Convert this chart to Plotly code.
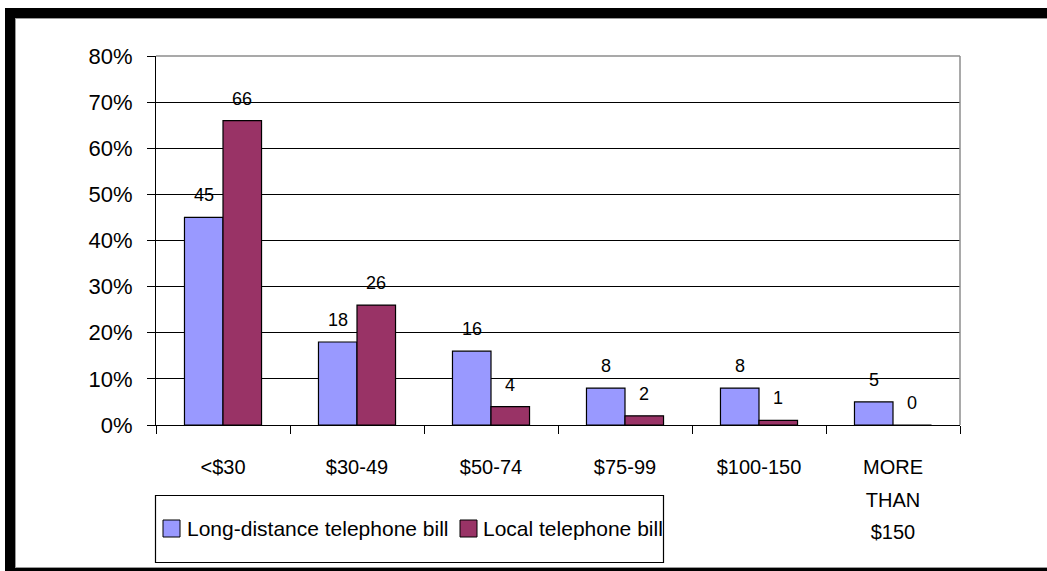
import plotly.graph_objects as go

# Monthly telephone bill brackets and share of respondents (%)
categories = ["<$30", "$30-49", "$50-74", "$75-99", "$100-150", "MORE THAN $150"]
tick_labels = ["<$30", "$30-49", "$50-74", "$75-99", "$100-150", "MORE<br>THAN<br>$150"]
long_distance = [45, 18, 16, 8, 8, 5]
local = [66, 26, 4, 2, 1, 0]
series_names = ["Long-distance telephone bill", "Local telephone bill"]
series_colors = ["#9999FF", "#993366"]
y_ticks = [0, 10, 20, 30, 40, 50, 60, 70, 80]
y_tick_labels = [f"{v}%" for v in y_ticks]

W, H = 1047, 571
ML, MR, MT, MB = 156, 87, 56, 146
PW, PH = W - ML - MR, H - MT - MB
FONT = "Liberation Sans, Arial, sans-serif"


def px_x(px):
    return (px - ML) / PW


def px_y(py):
    return (H - MB - py) / PH


fig = go.Figure()
for name, vals, col in zip(series_names, [long_distance, local], series_colors):
    fig.add_trace(go.Bar(
        x=categories, y=vals, name=name, showlegend=False,
        marker=dict(color=col, line=dict(color="black", width=1.2)),
    ))

# value labels above each bar
bar_half = PW / len(categories) * (1 - 0.425) / 4
annotations = []
for sign, vals in zip([-1, 1], [long_distance, local]):
    for c, v in zip(categories, vals):
        annotations.append(dict(
            x=c, y=v, xref="x", yref="y", text=str(v), showarrow=False,
            xshift=sign * bar_half, yshift=22, yanchor="middle",
            font=dict(family=FONT, size=18, color="black"),
        ))

# legend box drawn by hand
shapes = []
legend_items = [(163, 185), (460, 481)]
for (sx, tx), name, col in zip(legend_items, series_names, series_colors):
    shapes.append(dict(type="rect", xref="paper", yref="paper",
                       x0=px_x(sx), x1=px_x(sx + 17), y0=px_y(537), y1=px_y(520),
                       fillcolor=col, line=dict(color="black", width=1)))
    annotations.append(dict(x=px_x(tx), y=px_y(528.5), xref="paper", yref="paper",
                            text=name, showarrow=False, xanchor="left", yanchor="middle",
                            font=dict(family=FONT, size=21, color="black")))
shapes.append(dict(type="rect", xref="paper", yref="paper",
                   x0=px_x(155.5), x1=px_x(663.5), y0=px_y(562.5), y1=px_y(495.5),
                   line=dict(color="black", width=1.2)))

# gray top and right borders of the plot area
shapes.append(dict(type="line", xref="paper", yref="paper", x0=0, x1=1, y0=1, y1=1,
                   line=dict(color="#8c8c8c", width=1.5)))
shapes.append(dict(type="line", xref="paper", yref="paper", x0=1, x1=1, y0=0, y1=1,
                   line=dict(color="#8c8c8c", width=1.5)))

# outer frame
shapes += [
    dict(type="rect", xref="paper", yref="paper", x0=px_x(5), x1=px_x(W), y0=px_y(18), y1=px_y(8),
         fillcolor="black", line=dict(width=0)),
    dict(type="rect", xref="paper", yref="paper", x0=px_x(5), x1=px_x(15), y0=px_y(W), y1=px_y(8),
         fillcolor="black", line=dict(width=0)),
    dict(type="rect", xref="paper", yref="paper", x0=px_x(5), x1=px_x(W), y0=px_y(H + 5), y1=px_y(568),
         fillcolor="black", line=dict(width=0)),
    dict(type="line", xref="paper", yref="paper", x0=px_x(15), x1=px_x(W), y0=px_y(18.5), y1=px_y(18.5),
         line=dict(color="#9a9a9a", width=1)),
    dict(type="line", xref="paper", yref="paper", x0=px_x(15.5), x1=px_x(15.5), y0=px_y(567), y1=px_y(18),
         line=dict(color="#9a9a9a", width=1)),
    dict(type="line", xref="paper", yref="paper", x0=px_x(15), x1=px_x(W), y0=px_y(567.5), y1=px_y(567.5),
         line=dict(color="#9a9a9a", width=1)),
]

# category labels: larger base font sets the line pitch, inner span sets glyph size
x_tick_text = [f'<span style="font-size:20px">{t}</span>' for t in tick_labels]

fig.update_layout(
    width=W, height=H,
    margin=dict(l=ML, r=MR, t=MT, b=MB, pad=0),
    paper_bgcolor="white", plot_bgcolor="white",
    barmode="group", bargap=0.425, bargroupgap=0,
    font=dict(family=FONT, color="black"),
    annotations=annotations, shapes=shapes,
    xaxis=dict(
        type="category", tickmode="array", tickvals=categories, ticktext=x_tick_text,
        tickson="boundaries", ticks="outside", ticklen=8, tickcolor="black", tickwidth=1.2,
        showline=True, linecolor="black", linewidth=1.2, showgrid=False,
        tickfont=dict(family=FONT, size=25, color="black"), ticklabelstandoff=18,
        fixedrange=True,
    ),
    yaxis=dict(
        range=[0, 80], tickmode="array", tickvals=y_ticks, ticktext=y_tick_labels,
        ticks="outside", ticklen=8, tickcolor="black", tickwidth=1.2,
        showline=True, linecolor="black", linewidth=1.2,
        showgrid=True, gridcolor="black", gridwidth=1.2, zeroline=False,
        tickfont=dict(family=FONT, size=22, color="black"), ticklabelstandoff=10,
        fixedrange=True,
    ),
)

fig.write_html("out.html", config={"displayModeBar": False})
